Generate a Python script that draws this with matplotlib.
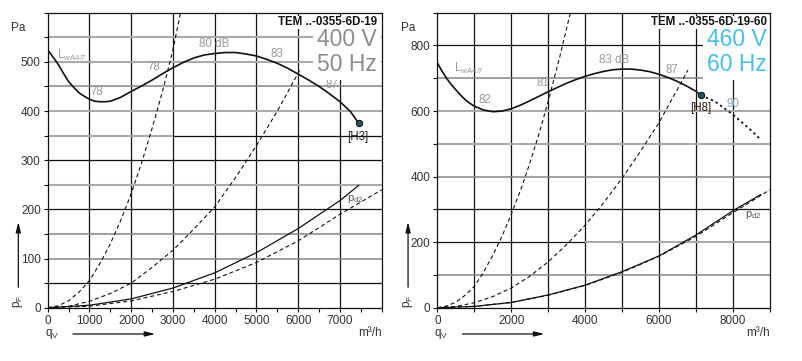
import matplotlib
matplotlib.use('Agg')
import matplotlib.pyplot as plt
from matplotlib.ticker import MultipleLocator, FixedLocator, FixedFormatter

plt.rcParams['font.family'] = ['Liberation Sans', 'DejaVu Sans']
plt.rcParams['mathtext.fontset'] = 'custom'
plt.rcParams['mathtext.rm'] = 'Liberation Sans'
plt.rcParams['mathtext.default'] = 'regular'

# ---- left panel: TEM ..-0355-6D-19, 400 V / 50 Hz ----
left_q_main = [0, 125, 250, 375, 500, 625, 750, 875, 1000, 1125, 1250, 1375, 1500,
               1750, 2000, 2250, 2500, 2750, 3000, 3250, 3500, 3750, 4000, 4250,
               4500, 4750, 5000, 5250, 5500, 5750, 6000, 6250, 6500, 6750, 7000,
               7250, 7450]
left_p_main = [524, 510, 495, 477, 460, 448, 437, 430, 424, 420, 419, 419, 420,
               428, 440, 451, 463, 476, 488, 499, 508, 514, 517, 519,
               519, 516, 512, 505, 497, 487, 475, 463, 450, 435, 419,
               399, 375]
left_q_sys1 = [0, 250, 500, 750, 1000, 1250, 1500, 1750, 2000, 2250, 2500, 2750, 3000, 3180]
left_p_sys1 = [0, 4, 14, 32, 55, 90, 130, 178, 232, 295, 365, 440, 525, 600]
left_q_sys2 = [0, 500, 1000, 1500, 2000, 2500, 3000, 3500, 4000, 4500, 5000, 5500, 6030]
left_p_sys2 = [0, 3, 13, 29, 50, 82, 117, 160, 205, 265, 330, 400, 482]
left_q_sys3 = [0, 1000, 2000, 3000, 4000, 5000, 6000, 7000, 8000]
left_p_sys3 = [0, 3, 14, 33, 58, 92, 136, 190, 240]
left_q_pd2 = [0, 1000, 2000, 3000, 4000, 5000, 6000, 7000, 7450]
left_p_pd2 = [0, 5, 18, 40, 71, 112, 161, 218, 249]
left_db = [('78', 1176, 439), ('78', 2552, 490), ('80 dB', 3994, 537),
           ('83', 5497, 517), ('87', 6817, 453)]

# ---- right panel: TEM ..-0355-6D-19-60, 460 V / 60 Hz ----
right_q_main = [0, 125, 250, 375, 500, 625, 750, 875, 1000, 1250, 1500, 1750, 2000,
                2250, 2500, 2750, 3000, 3250, 3500, 3750, 4000, 4250, 4500, 4750,
                5000, 5250, 5500, 5750, 6000, 6250, 6500, 6750, 7000, 7130]
right_p_main = [747, 722, 700, 681, 665, 649, 635, 624, 615, 603, 598, 600, 607,
                618, 631, 645, 659, 672, 685, 696, 706, 714, 721, 726,
                728, 728, 725, 720, 712, 702, 690, 676, 660, 648]
right_q_ext = [7130, 7500, 8000, 8500, 8720]
right_p_ext = [648, 630, 589, 540, 516]
right_q_sys1 = [0, 250, 500, 750, 1000, 1250, 1500, 1750, 2000, 2250, 2500, 2750, 3000, 3300, 3600]
right_p_sys1 = [0, 5, 17, 38, 65, 108, 160, 218, 285, 358, 440, 530, 630, 760, 900]
right_q_sys2 = [0, 500, 1000, 1500, 2000, 2500, 3000, 3500, 4000, 4500, 5000, 5500, 6000, 6780]
right_p_sys2 = [0, 4, 15, 34, 60, 96, 140, 193, 252, 320, 395, 478, 565, 725]
right_q_sys3 = [0, 1000, 2000, 3000, 4000, 5000, 6000, 7000, 8000, 9000]
right_p_sys3 = [0, 4, 16, 38, 68, 108, 157, 218, 290, 360]
right_q_pd2 = [0, 1000, 2000, 3000, 4000, 5000, 6000, 7000, 8000, 8750]
right_p_pd2 = [0, 4, 16, 39, 69, 110, 158, 222, 296, 345]
right_db = [('82', 1289, 635), ('81', 2849, 686), ('83 dB', 4776, 755),
            ('87', 6335, 725), ('90', 8000, 620)]

BLACK = '#111111'
LGREY = '#ababab'
DGREY = '#858585'
TXT = '#333333'
DASH = (0, (3.6, 2.6))

fig = plt.figure(figsize=(8.02, 3.61), dpi=100)
axL = fig.add_axes([0.0595, 0.1476, 0.4165, 0.8172])
axR = fig.add_axes([0.5453, 0.1476, 0.4148, 0.8172])


def hgrid(ax, y, kind, x0, x1):
    if kind == 'k':
        ax.hlines(y, x0, x1, colors=BLACK, lw=0.9, zorder=1)
    elif kind == 'g':
        ax.hlines(y, x0, x1, colors=LGREY, lw=1.5, zorder=1)
    else:
        ax.hlines(y, x0, x1, colors=DGREY, lw=1.1, zorder=1)


def frame(ax, xmax, ymax, title, volt, freq, vcol, x_text):
    ax.set_xlim(0, xmax)
    ax.set_ylim(0, ymax)
    for s in ax.spines.values():
        s.set_color(BLACK)
        s.set_linewidth(0.9)
        s.set_zorder(10)
    for x in range(1000, xmax, 1000):
        ax.vlines(x, 0, ymax, colors=BLACK, lw=0.9, zorder=1)
    ax.tick_params(which='both', direction='out', length=3, width=0.8,
                   color=BLACK, labelsize=8.5, labelcolor=TXT, pad=2)
    box = dict(facecolor='white', edgecolor='none', pad=0.3)
    ax.text(x_text, 0.958, title, transform=ax.transAxes, ha='right', va='baseline',
            fontsize=8.3, fontweight='bold', color=BLACK, zorder=7, bbox=box)
    big = dict(facecolor='white', edgecolor='none', pad=3)
    # two-line voltage / frequency block; baseline refers to the last line
    ax.text(x_text, 0.803, volt + '\n' + freq, transform=ax.transAxes, ha='right',
            va='baseline', multialignment='right', linespacing=1.08,
            fontsize=16.5, color=vcol, zorder=5, bbox=big)
    # axis captions and arrows
    ax.text(-0.088, 0.947, 'Pa', transform=ax.transAxes, ha='center', va='center',
            fontsize=8.5, color=TXT)
    ax.text(-0.088, 0.02, 'p$_F$', transform=ax.transAxes, ha='center', va='center',
            fontsize=8.5, color=TXT, rotation=90)
    ax.annotate('', xy=(-0.088, 0.30), xytext=(-0.088, 0.06), xycoords='axes fraction',
                arrowprops=dict(arrowstyle='-|>,head_length=0.6,head_width=0.15',
                                color=BLACK, lw=0.9), annotation_clip=False)
    ax.text(0.012, -0.089, 'q$_V$', transform=ax.transAxes, ha='center', va='center',
            fontsize=8.5, color=TXT)
    ax.annotate('', xy=(0.33, -0.089), xytext=(0.067, -0.089), xycoords='axes fraction',
                arrowprops=dict(arrowstyle='-|>,head_length=0.6,head_width=0.15',
                                color=BLACK, lw=0.9), annotation_clip=False)
    ax.text(1.0, -0.087, 'm³/h', transform=ax.transAxes, ha='right', va='center',
            fontsize=8.5, color=TXT)


# left panel
frame(axL, 8000, 600, 'TEM ..-0355-6D-19', '400 V', '50 Hz', '#8c8c8c', 0.985)
for y, kind in [(50, 'k'), (100, 'd'), (150, 'd'), (200, 'k'), (250, 'g'),
                (300, 'k'), (400, 'g'), (450, 'd'), (500, 'g'), (550, 'g')]:
    hgrid(axL, y, kind, 0, 8000)
hgrid(axL, 350, 'g', 0, 3000)
hgrid(axL, 350, 'k', 3000, 8000)
axL.xaxis.set_major_locator(FixedLocator(range(0, 8001, 1000)))
axL.xaxis.set_major_formatter(FixedFormatter([str(v) for v in range(0, 8000, 1000)] + ['']))
axL.xaxis.set_minor_locator(MultipleLocator(500))
axL.yaxis.set_major_locator(FixedLocator(range(0, 601, 100)))
axL.yaxis.set_major_formatter(FixedFormatter([str(v) for v in range(0, 600, 100)] + ['']))
axL.yaxis.set_minor_locator(MultipleLocator(50))

axL.plot(left_q_main, left_p_main, color=BLACK, lw=1.2, zorder=4)
axL.plot(left_q_sys1, left_p_sys1, color=BLACK, lw=0.8, ls=DASH, zorder=3)
axL.plot(left_q_sys2, left_p_sys2, color=BLACK, lw=0.8, ls=DASH, zorder=3)
axL.plot(left_q_sys3, left_p_sys3, color=BLACK, lw=0.8, ls=DASH, zorder=3)
axL.plot(left_q_pd2, left_p_pd2, color=BLACK, lw=0.9, zorder=3)
axL.plot(left_q_main[-1], left_p_main[-1], 'o', ms=4.5, mfc='#1f5a5a', mec=BLACK,
         mew=0.8, zorder=6)
axL.text(7424, 347, '[H3]', ha='center', va='center', fontsize=8.3, color='#222222')
axL.text(216, 514, 'L$_{wA4/7}$', ha='left', va='center', fontsize=8.3, color='#999999')
for lab, q, p in left_db:
    axL.text(q, p, lab, ha='center', va='center', fontsize=8.3, color='#999999')
axL.text(7376, 222, 'p$_{d2}$', ha='center', va='center', fontsize=8, color='#555555')

# right panel
frame(axR, 9000, 900, 'TEM ..-0355-6D-19-60', '460 V', '60 Hz', '#4cbde6', 0.99)
for y, kind in [(100, 'd'), (300, 'k'), (400, 'd'), (500, 'g'), (600, 'g'),
                (700, 'd'), (800, 'k')]:
    hgrid(axR, y, kind, 0, 9000)
hgrid(axR, 200, 'k', 0, 4000)
hgrid(axR, 200, 'g', 4000, 9000)
axR.xaxis.set_major_locator(FixedLocator(range(0, 8001, 2000)))
axR.xaxis.set_minor_locator(MultipleLocator(1000))
axR.yaxis.set_major_locator(FixedLocator(range(0, 801, 200)))
axR.yaxis.set_minor_locator(MultipleLocator(100))

axR.plot(right_q_main, right_p_main, color=BLACK, lw=1.2, zorder=4)
axR.plot(right_q_ext, right_p_ext, color=BLACK, lw=1.3, ls=(0, (1.3, 1.7)), zorder=4)
axR.plot(right_q_sys1, right_p_sys1, color=BLACK, lw=0.8, ls=DASH, zorder=3)
axR.plot(right_q_sys2, right_p_sys2, color=BLACK, lw=0.8, ls=DASH, zorder=3)
axR.plot(right_q_sys3, right_p_sys3, color=BLACK, lw=0.8, ls=DASH, zorder=3)
axR.plot(right_q_pd2, right_p_pd2, color=BLACK, lw=0.9, zorder=3)
axR.plot(right_q_main[-1], right_p_main[-1], 'o', ms=4.5, mfc='#1f5a5a', mec=BLACK,
         mew=0.8, zorder=6)
axR.text(7127, 608, '[H8]', ha='center', va='center', fontsize=8.3, color='#2a1a10')
axR.text(451, 730, 'L$_{wA4/7}$', ha='left', va='center', fontsize=8.3, color='#999999')
for lab, q, p in right_db:
    axR.text(q, p, lab, ha='center', va='center', fontsize=8.3,
             color='#8fa3b3' if lab == '90' else '#999999')
axR.text(8540, 283, 'p$_{d2}$', ha='center', va='center', fontsize=8, color='#555555')

fig.savefig('out.png', dpi=100)
